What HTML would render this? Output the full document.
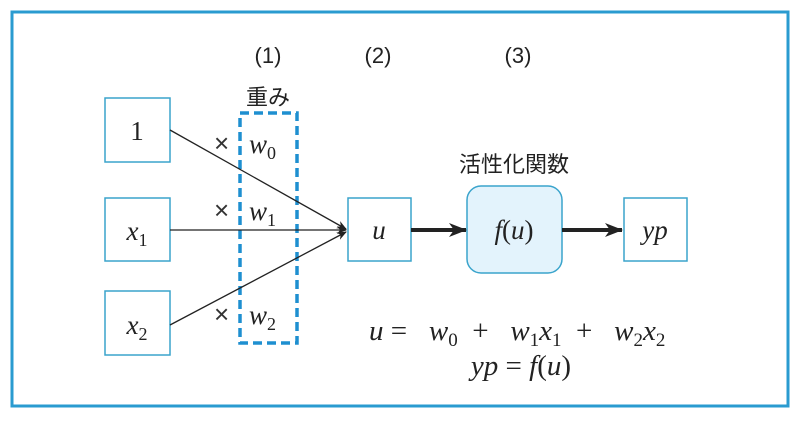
<!DOCTYPE html>
<html><head><meta charset="utf-8"><style>
body{margin:0;background:#fff;}
svg text{font-family:"Liberation Serif",serif;}
.j{font-family:"Liberation Sans","Noto Sans CJK JP",sans-serif;}
</style></head><body>
<svg width="800" height="416" viewBox="0 0 800 416" xmlns="http://www.w3.org/2000/svg">
<defs>
<marker id="a" markerWidth="10" markerHeight="10" refX="9" refY="5" orient="auto" markerUnits="userSpaceOnUse"><path d="M0,1 L10,5 L0,9 L3,5Z" fill="#222"/></marker>
<marker id="b" markerWidth="18" markerHeight="14" refX="17" refY="7" orient="auto" markerUnits="userSpaceOnUse"><path d="M0,0 L18,7 L0,14 L5,7Z" fill="#222"/></marker>
</defs>
<rect x="12" y="12" width="776" height="394" fill="#fff" stroke="#2a9bd0" stroke-width="3"/>
<g fill="#fff" stroke="#3aa4cc" stroke-width="1.5">
<rect x="105" y="98" width="65" height="64"/>
<rect x="105" y="198" width="65" height="63"/>
<rect x="105" y="291" width="65" height="64"/>
<rect x="348" y="198" width="63" height="63"/>
<rect x="624" y="198" width="63" height="63"/>
</g>
<rect x="467" y="186" width="95" height="87" rx="14" fill="#e3f3fc" stroke="#3aa4cc" stroke-width="1.5"/>
<rect x="240" y="113" width="57" height="230" fill="none" stroke="#1e8fd0" stroke-width="3.5" stroke-dasharray="9,5"/>
<g stroke="#222" stroke-width="1.3">
<line x1="170" y1="130" x2="346" y2="229" marker-end="url(#a)"/>
<line x1="170" y1="230" x2="346" y2="230" marker-end="url(#a)"/>
<line x1="170" y1="325" x2="346" y2="232" marker-end="url(#a)"/>
</g>
<g stroke="#222" stroke-width="4">
<line x1="411" y1="230" x2="466" y2="230" marker-end="url(#b)"/>
<line x1="562" y1="230" x2="622" y2="230" marker-end="url(#b)"/>
</g>
<g font-size="22" fill="#222" text-anchor="middle">
<text x="268" y="63" class="j">(1)</text>
<text x="378" y="63" class="j">(2)</text>
<text x="518" y="63" class="j">(3)</text>
<text x="268" y="105" class="j">重み</text>
<text x="514" y="172" class="j">活性化関数</text>
</g>
<g font-size="26" fill="#333">
<text x="214" y="152" class="j">×</text>
<text x="214" y="219" class="j">×</text>
<text x="214" y="323" class="j">×</text>
</g>
<g font-size="27" fill="#222" font-style="italic" text-anchor="middle">
<text x="137" y="140" font-style="normal">1</text>
<text x="137" y="240">x<tspan font-size="18" font-style="normal" dy="6">1</tspan></text>
<text x="137" y="334">x<tspan font-size="18" font-style="normal" dy="6">2</tspan></text>
<text x="379" y="239">u</text>
<text x="514" y="239">f<tspan font-style="normal">(</tspan>u<tspan font-style="normal">)</tspan></text>
<text x="655" y="239">yp</text>
</g>
<g font-size="27" fill="#222" font-style="italic">
<text x="249" y="153">w<tspan font-size="18" font-style="normal" dy="6">0</tspan></text>
<text x="249" y="220">w<tspan font-size="18" font-style="normal" dy="6">1</tspan></text>
<text x="249" y="324">w<tspan font-size="18" font-style="normal" dy="6">2</tspan></text>
</g>
<g font-size="29" fill="#222" font-style="italic">
<text x="369" y="340" xml:space="preserve">u <tspan font-style="normal">=</tspan>   w<tspan font-size="19" font-style="normal" dy="6">0</tspan><tspan dy="-6" font-style="normal">  +   </tspan>w<tspan font-size="19" font-style="normal" dy="6">1</tspan><tspan dy="-6">x</tspan><tspan font-size="19" font-style="normal" dy="6">1</tspan><tspan dy="-6" font-style="normal">  +   </tspan>w<tspan font-size="19" font-style="normal" dy="6">2</tspan><tspan dy="-6">x</tspan><tspan font-size="19" font-style="normal" dy="6">2</tspan></text>
<text x="521" y="375" text-anchor="middle" xml:space="preserve">yp <tspan font-style="normal">= </tspan>f<tspan font-style="normal">(</tspan>u<tspan font-style="normal">)</tspan></text>
</g>
</svg>
</body></html>
